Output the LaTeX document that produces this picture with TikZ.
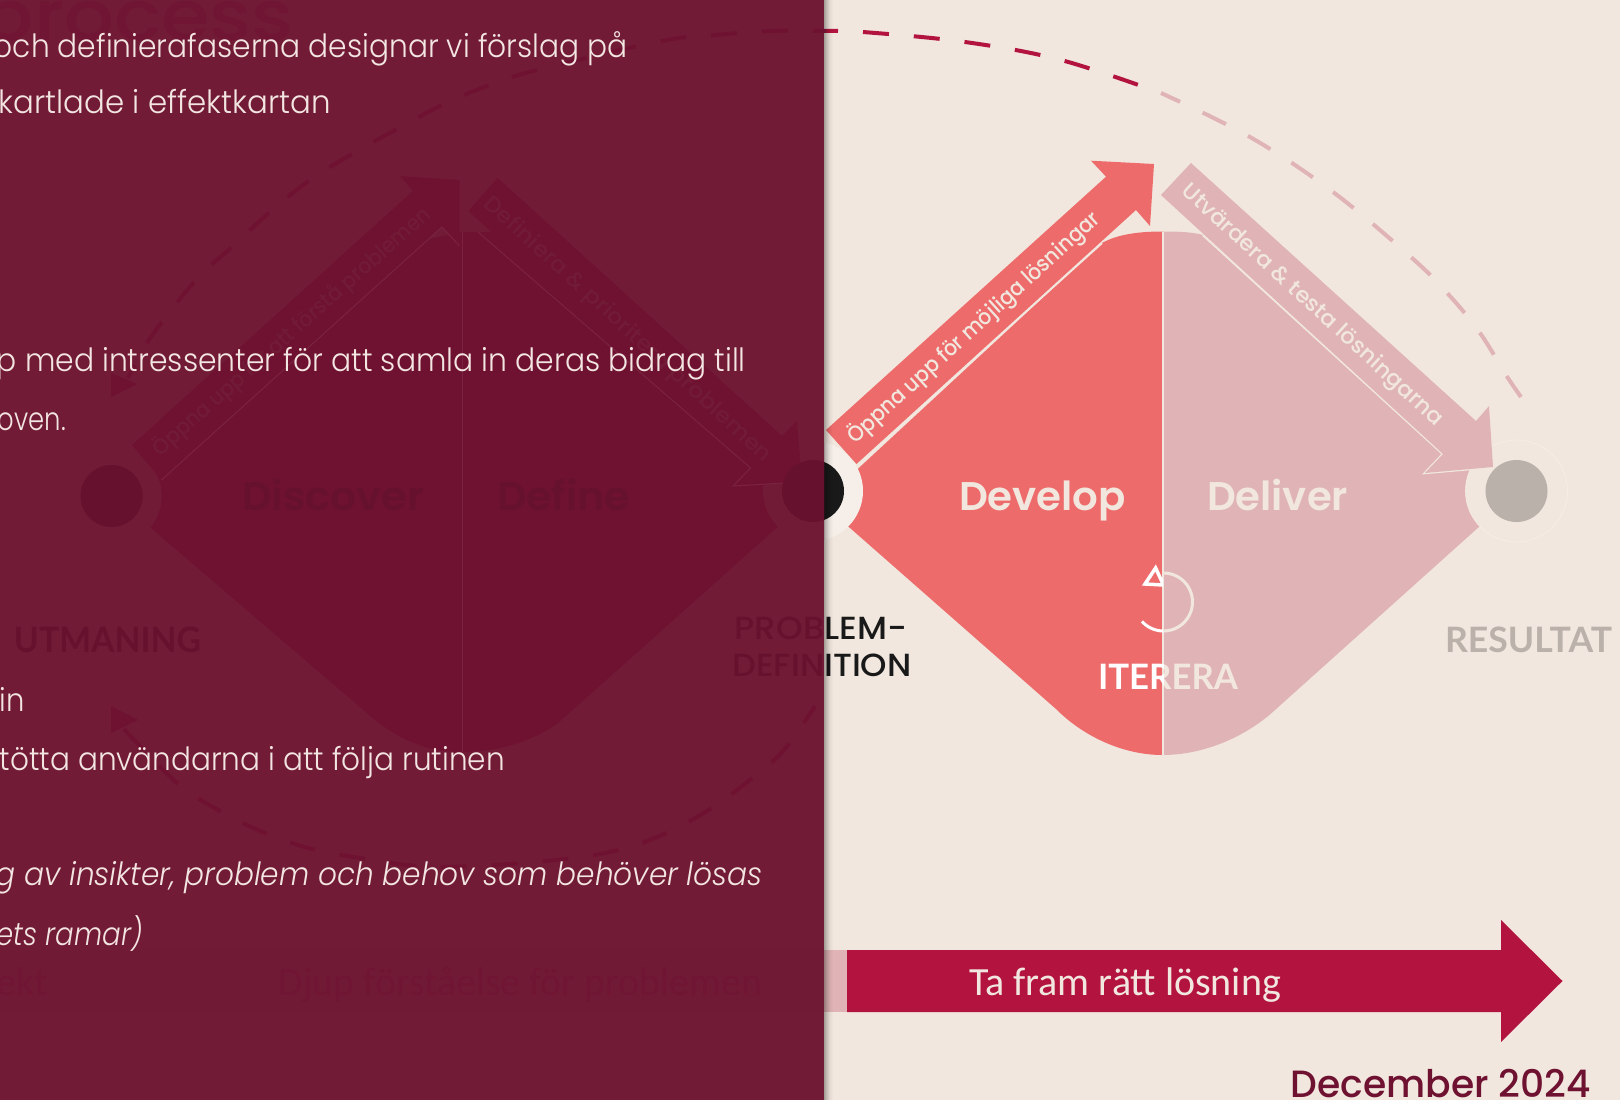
\documentclass[tikz,border=0pt]{standalone}
\usepackage{fontspec}
\usepackage{graphicx}
\setmainfont{Lato}
\newfontfamily\lightfont[UprightFont=* Light,ItalicFont=* Light Italic]{Poppins}
\newfontfamily\labf{Lato}
\newfontfamily\carf{Carlito}
\newfontfamily\popf{Poppins}
\newfontfamily\popm[UprightFont=* Medium]{Poppins}
\newfontfamily\pops[UprightFont=* SemiBold]{Poppins}
\newcommand{\fitw}[2]{\resizebox{#1pt}{\height}{#2}}
\definecolor{bg}{HTML}{F1E7DE}
\definecolor{panel}{HTML}{721B37}
\definecolor{deep}{HTML}{6F1231}
\definecolor{faint}{HTML}{7A2340}
\definecolor{coral}{HTML}{EE6B6B}
\definecolor{rose}{HTML}{E0B4B6}
\definecolor{crimson}{HTML}{B3143F}
\definecolor{ringc}{HTML}{F6EFE9}
\definecolor{stone}{HTML}{BAB1AB}
\definecolor{paneltxt}{HTML}{F3E6E2}
\colorlet{shade1}{black!8!deep}
\tikzset{
 ptext/.style={text=paneltxt,anchor=base east,inner sep=0pt,font=\lightfont\fontsize{32}{32}\selectfont},
 phase/.style={inner sep=0pt,anchor=base,font=\pops\fontsize{40}{40}\selectfont},
 alabel/.style={inner sep=0pt,font=\popm\fontsize{22}{22}\selectfont},
 state/.style={inner sep=0pt,anchor=base,font=\labf\bfseries\fontsize{35}{35}\selectfont},
 prob/.style={inner sep=0pt,anchor=base,font=\popm\fontsize{32}{32}\selectfont},
 dashc/.style={line width=4pt,dash pattern=on 26pt off 25pt},
}
\begin{document}
\begin{tikzpicture}[x=1pt,y=-1pt]
\useasboundingbox (0,0) rectangle (1620,1100);
\begin{scope}
\clip (0,0) rectangle (1620,1100);
\fill[bg] (0,0) rectangle (1620,1100);
%% ---------- right diagram ----------
\draw[crimson,dashc,dash phase=14pt] plot[smooth,tension=0.6] coordinates {(826,31) (863,32) (965,42) (1061,60) (1161,93)};
\draw[rose,dashc,dash phase=5pt] plot[smooth,tension=0.6] coordinates {(1161,93) (1250,137) (1333,192) (1412,258) (1449,295) (1480,333) (1506,375) (1521,397)};
% diamond halves
\fill[coral] (1162.5,231.5) .. controls (1140,231.5) and (1118,234) .. (1102,243) -- (835,490) -- (825,506) -- (1056,709) .. controls (1085,738) and (1125,755) .. (1162.5,755) -- cycle;
\fill[rose] (1162.5,231.5) .. controls (1178,231.5) and (1192,232) .. (1203,235) -- (1500,491) -- (1500,508) -- (1271,713.6) .. controls (1240,740) and (1200,755) .. (1162.5,755) -- cycle;
\draw[bg,line width=2pt] (1162.5,231.5) -- (1162.5,755);
% rings
\fill[ringc] (813,491) circle (50);
\fill[bg] (1516.5,491) circle (51);
\draw[ringc,line width=.6pt] (1516.5,491) circle (51);
% arrows
\draw[bg,line width=2pt] (856.5,464) -- (1102,243);
\fill[coral] (826,430) -- (1106,176.7) -- (1091,160.7) -- (1154,164) -- (1150,226) -- (1136,210) -- (856.5,464) -- cycle;
\draw[bg,line width=2.4pt,line join=miter] (1203,235) -- (1443,454) -- (1425,473) -- (1493,467);
\fill[rose] (1191,163) -- (1161,195) -- (1443,454) -- (1425,473) -- (1493,467) -- (1489,406) -- (1476,421) -- cycle;
\fill[stone] (1516.5,491) circle (31);
\fill[black!90] (813,491) circle (31);
\node[alabel,text=bg,rotate=42.3] (open) at (974,328) {\fitw{332}{Öppna upp för möjliga lösningar}};
\node[alabel,text=bg,rotate=-42.6] (test) at (1312,306) {\fitw{346}{Utvärdera \& testa lösningarna}};
\node[phase,text=bg] (develop) at (1042.5,510.5) {\fitw{167}{Develop}};
\node[phase,text=bg] (deliver) at (1277.5,510.5) {\fitw{141}{Deliver}};
\node[state,text=stone] (result) at (1528.5,652) {\fitw{167}{RESULTAT}};
\node[prob,text=black!90] (def1) at (821,639.6) {\fitw{172.5}{PROBLEM-}};
\node[prob,text=black!90] (def2) at (822,676.7) {\fitw{179}{DEFINITION}};
% iterate
\begin{scope}
\clip (1163,500) rectangle (1400,800);
\node[inner sep=0pt,anchor=base,font=\labf\bfseries\fontsize{35}{35}\selectfont,text=bg] (iterb) at (1168,689.5) {\fitw{140}{ITERERA}};
\draw[bg,line width=3pt] plot[smooth,domain=0:228,samples=40] ({1163.5+29*sin(\x)},{602-29*cos(\x)});
\end{scope}
\begin{scope}
\clip (1000,500) rectangle (1163,800);
\node[inner sep=0pt,anchor=base,font=\labf\bfseries\fontsize{35}{35}\selectfont,text=white] (itera) at (1168,689.5) {\fitw{140}{ITERERA}};
\draw[white,line width=3pt] plot[smooth,domain=0:228,samples=40] ({1163.5+29*sin(\x)},{602-29*cos(\x)});
\draw[white,line width=3.5pt,line join=miter] (1155.6,568) -- (1145,584) -- (1163.5,585) -- cycle;
\end{scope}
% bottom arrow
\fill[rose] (820,950) rectangle (847,1012);
\fill[crimson] (847,950) -- (1501,950) -- (1501,920) -- (1562.5,981) -- (1501,1042) -- (1501,1012) -- (847,1012) -- cycle;
\node[inner sep=0pt,font=\carf\fontsize{40}{40}\selectfont,text=bg,anchor=base] (right) at (1125,995) {\fitw{312}{Ta fram rätt lösning}};
\node[inner sep=0pt,font=\popm\fontsize{38}{38}\selectfont,text=deep,anchor=base east] (date) at (1591,1097.7) {\fitw{300}{December 2024}};
%% ---------- panel ----------
\fill[panel] (0,0) rectangle (824,1100);
\foreach \i/\o in {0/.32,1/.26,2/.21,3/.16,4/.12,5/.08,6/.05,7/.03,8/.015}{
 \fill[black,opacity=\o] (824+\i,0) rectangle (825+\i,1100);
}
\node[inner sep=0pt,anchor=base east,font=\popm\fontsize{70}{70}\selectfont,text=panel!35!deep] (title) at (294,41) {\fitw{313}{process}};
\fill[panel!85!deep] (0,950) rectangle (824,1012);
\node[inner sep=0pt,font=\carf\fontsize{40}{40}\selectfont,text=panel!35!deep,anchor=base] (deep1) at (520.5,995) {\fitw{483}{Djup förståelse för problemen}};
\node[inner sep=0pt,font=\carf\fontsize{40}{40}\selectfont,text=panel!35!deep,anchor=base east] (deep2) at (48,995) {ekt};
% left diamond
\fill[deep] (462,232) -- (505,232) -- (800,490) -- (800,507) -- (558,723) .. controls (530,743) and (495,752) .. (462,752) .. controls (425,752) and (395,738) .. (367,713) -- (130,510) -- (130,495) -- (400,245) -- cycle;
\draw[faint,line width=1pt] (462,232) -- (462,752);
\fill[panel] (111.6,496) circle (50);
\begin{scope}
\clip (0,0) rectangle (824,1100);
\fill[panel] (813,491) circle (50);
\end{scope}
\fill[deep] (132,445) -- (413,191) -- (400,176) -- (459.5,180) -- (459.5,246) -- (442,227) -- (161.5,480) -- cycle;
\fill[deep] (497.6,178) -- (468.5,211) -- (750.6,468) -- (733,486) -- (802,482) -- (797,421) -- (782,436) -- cycle;
\draw[faint,line width=1pt] (161.5,480) -- (442,227) -- (459.5,246);
\draw[faint,line width=1pt] (478,232) -- (750.6,468) -- (733,486) -- (802,482);
\fill[shade1] (111.6,496) circle (31);
\begin{scope}
\clip (0,0) rectangle (824,1100);
\fill[shade1] (813,491) circle (31);
\end{scope}
\node[alabel,text=panel,rotate=41.5] (openL) at (292,332) {\fitw{363}{Öppna upp för att förstå problemen}};
\node[alabel,text=panel,rotate=-42.5] (defL) at (627,330) {\fitw{382}{Definiera \& prioritera problemen}};
\node[phase,text=shade1] (discover) at (333,510.5) {\fitw{182}{Discover}};
\node[phase,text=shade1] (define) at (563.5,510.5) {\fitw{133}{Define}};
\node[state,text=shade1] (chal) at (107.5,652) {\fitw{187}{UTMANING}};
\begin{scope}
\clip (0,0) rectangle (824,1100);
\node[prob,text=shade1] (defL1) at (821,639.6) {\fitw{172.5}{PROBLEM-}};
\node[prob,text=shade1] (defL2) at (822,676.7) {\fitw{179}{DEFINITION}};
\end{scope}
% dashed arcs in panel
\draw[deep,dashc,dash phase=13pt] plot[smooth,tension=0.6] coordinates {(826,31) (773,31) (715,35) (662,41) (537,70) (487,86) (442,105) (397,129) (352,154) (310,180) (270,212) (233,246) (196,280) (151,337) (128,378)};
\fill[deep] (111,373) -- (137,384) -- (111,397) -- cycle;
\draw[deep,dashc] plot[smooth,tension=0.6] coordinates {(124,729) (177,783) (220,811) (265,833) (312,849) (360,858) (418,866) (476,866) (556,860) (614,851) (662,835) (707,811) (746,783) (783,751) (815,706)};
\fill[deep] (111,706) -- (138,720) -- (111,733) -- cycle;
% panel text
\node[ptext] (t1) at (628,57) {\fitw{634}{och definierafaserna designar vi förslag på}};
\node[ptext] (t2) at (331,113.6) {\fitw{332}{kartlade i effektkartan}};
\node[ptext] (t3) at (746,371) {\fitw{749}{p med intressenter för att samla in deras bidrag till}};
\node[ptext] (t4) at (66,430) {\fitw{68}{oven.}};
\node[ptext] (t5) at (25,711) {\fitw{25}{in}};
\node[ptext] (t6) at (505,770.6) {\fitw{505}{tötta användarna i att följa rutinen}};
\node[ptext] (t7) at (763,885) {\fitw{767}{\itshape g av insikter, problem och behov som behöver lösas}};
\node[ptext] (t8) at (143,945) {\fitw{146}{\itshape ets ramar)}};
\end{scope}
\end{tikzpicture}
\end{document}
